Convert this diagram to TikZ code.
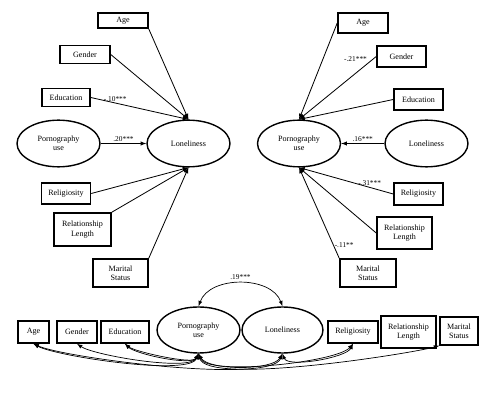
\documentclass[tikz,border=0pt]{standalone}
\usepackage{fontspec}
\setmainfont{Liberation Serif}
\usepackage{tikz}
\usetikzlibrary{shapes,calc}

\begin{document}
\begin{tikzpicture}[x=0.3mm,y=0.3mm,
    var/.style={draw=black,line width=1.3pt,font=\fontsize{6.9}{8}\selectfont,align=center,inner sep=1pt,minimum height=5.5mm},
    lat/.style={ellipse,draw=black,line width=1.2pt,font=\fontsize{6.9}{8}\selectfont,align=center,inner sep=0pt,minimum width=24.9mm,minimum height=14mm},
    path/.style={line width=0.7pt,-latex},
    cov/.style={line width=0.6pt,latex-latex},
    coef/.style={font=\fontsize{6.3}{7}\selectfont,inner sep=1pt}]
  \useasboundingbox (0,0) rectangle (503,407);
  % model A: loneliness as outcome
  \node[var,minimum width=15mm,minimum height=4.6mm] (ageA) at (123,386.5) {Age};
  \node[var,minimum width=15mm] (genA) at (85,352.5) {Gender};
  \node[var,minimum width=14.4mm] (eduA) at (66,309.5) {Education};
  \node[lat] (pornA) at (58.5,263.5) {Pornography\\use};
  \node[lat] (lonA) at (188.5,263.5) {Loneliness};
  \node[var,minimum width=14.7mm,minimum height=6.3mm] (relA) at (66,213.5) {Religiosity};
  \node[var,minimum width=17.1mm,minimum height=9.9mm] (rlA) at (82.5,177.5) {Relationship\\Length};
  \node[var,minimum width=16.5mm,minimum height=8.4mm] (marA) at (120.5,134) {Marital\\Status};
  \draw[path] (ageA.south east) -- (lonA.north);
  \draw[path] (genA.east) -- (lonA.north);
  \draw[path] (eduA.east) -- (lonA.north) node[coef,pos=0.25,above]{-.10***};
  \draw[path] (pornA.east) -- (lonA.west) node[coef,midway,above]{.20***};
  \draw[path] (relA.east) -- (lonA.south);
  \draw[path] (rlA.north east) -- (lonA.south);
  \draw[path] (marA.north east) -- (lonA.south);
  % model B: pornography use as outcome
  \node[var,minimum width=15mm,minimum height=6mm] (ageB) at (363,384) {Age};
  \node[var,minimum width=14.7mm,minimum height=6.3mm] (genB) at (401.5,350.5) {Gender};
  \node[var,minimum width=14.7mm,minimum height=6.3mm] (eduB) at (418.5,307.5) {Education};
  \node[lat] (pornB) at (299,263.5) {Pornography\\use};
  \node[lat] (lonB) at (426.5,263.5) {Loneliness};
  \node[var,minimum width=14.7mm,minimum height=6.6mm] (relB) at (418.5,213) {Religiosity};
  \node[var,minimum width=16.5mm,minimum height=9.6mm] (rlB) at (404.5,174) {Relationship\\Length};
  \node[var,minimum width=16.8mm,minimum height=8.4mm] (marB) at (368,134) {Marital\\Status};
  \draw[path] (ageB.west) -- (pornB.north);
  \draw[path] (genB.west) -- (pornB.north) node[coef,pos=0.1,above left=0pt]{-.21***};
  \draw[path] (eduB.west) -- (pornB.north);
  \draw[path] (lonB.west) -- (pornB.east) node[coef,midway,above]{.16***};
  \draw[path] (relB.west) -- (pornB.south) node[coef,pos=0.25,above]{-.31***};
  \draw[path] (rlB.west) -- (pornB.south);
  \draw[path] (marB.north west) -- (pornB.south) node[coef,pos=0.15,right]{-.11**};
  % model C: correlations
  \node[var,minimum width=9.3mm,minimum height=6.6mm] (ageC) at (33.5,75) {Age};
  \node[var,minimum width=12mm,minimum height=6.6mm] (genC) at (77,75) {Gender};
  \node[var,minimum width=14.4mm,minimum height=6.6mm] (eduC) at (125,75) {Education};
  \node[lat,minimum height=13.8mm] (pornC) at (198.5,77) {Pornography\\use};
  \node[lat,minimum width=24.3mm,minimum height=13.8mm] (lonC) at (282.5,77) {Loneliness};
  \node[var,minimum width=15mm,minimum height=6.6mm] (relC) at (353,75) {Religiosity};
  \node[var,minimum width=16.5mm,minimum height=9.6mm] (rlC) at (408.5,75) {Relationship\\Length};
  \node[var,minimum width=11.4mm,minimum height=8.4mm] (marC) at (459,76) {Marital\\Status};
  \draw[cov] (pornC.north) to[out=70,in=110] node[coef,midway,above=2pt]{.19***} (lonC.north);
  \draw[cov] (ageC.south) to[out=-30,in=-110,looseness=0.38] (pornC.south);
  \draw[cov] (genC.south) to[out=-35,in=-115,looseness=0.42] (pornC.south);
  \draw[cov] (eduC.south) to[out=-45,in=-120,looseness=0.5] (pornC.south);
  \draw[cov] (eduC.south) to[out=-40,in=-110,looseness=0.42] (pornC.south);
  \draw[cov] (pornC.south) to[out=-60,in=-120,looseness=0.6] (lonC.south);
  \draw[cov] (pornC.south) to[out=-70,in=-130,looseness=0.4] (relC.south);
  \draw[cov] (pornC.south) to[out=-75,in=-165,looseness=0.35] (marC.south west);
  \draw[cov] (ageC.south) to[out=-25,in=-110,looseness=0.34] (lonC.south);
  \draw[cov] (lonC.south) to[out=-70,in=-115,looseness=0.55] (relC.south);
\end{tikzpicture}
\end{document}
